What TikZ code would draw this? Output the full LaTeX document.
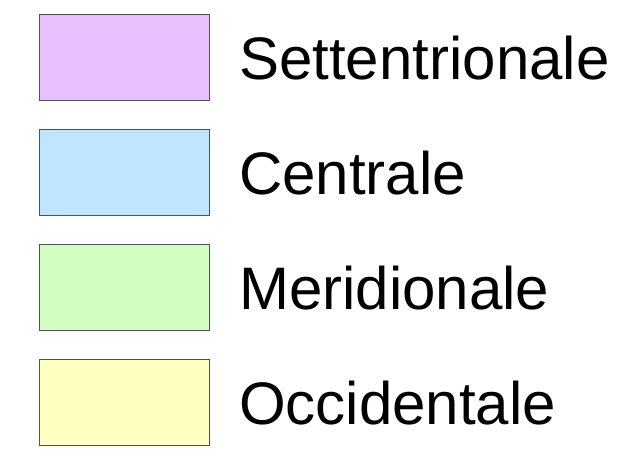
\documentclass[tikz,border=0pt]{standalone}
\usepackage{fontspec}
\setmainfont{Liberation Sans}
\usetikzlibrary{positioning}
\definecolor{settcol}{HTML}{E8C0FF}
\definecolor{centcol}{HTML}{C0E6FF}
\definecolor{meridcol}{HTML}{D0FFC0}
\definecolor{occcol}{HTML}{FFFFC0}
\definecolor{edgecol}{HTML}{505050}
\begin{document}
\begin{tikzpicture}[x=1pt, y=-1pt,
    swatch/.style={draw=edgecol, line width=1pt, minimum width=170pt, minimum height=86pt, inner sep=0pt, anchor=north west},
    label/.style={anchor=base west, inner sep=0pt, font=\fontsize{60}{70}\selectfont}]
    \useasboundingbox (0,0) rectangle (626,457);
    \foreach \name/\col/\txt [count=\k from 0] in {
      sett/settcol/Settentrionale,
      cent/centcol/Centrale,
      merid/meridcol/Meridionale,
      occ/occcol/Occidentale}
    {
      \node[swatch, fill=\col] (\name) at (39,14+115*\k) {};
      \node[label] (\name txt) at (239,79.5+115*\k) {\txt};
    }
\end{tikzpicture}
\end{document}
